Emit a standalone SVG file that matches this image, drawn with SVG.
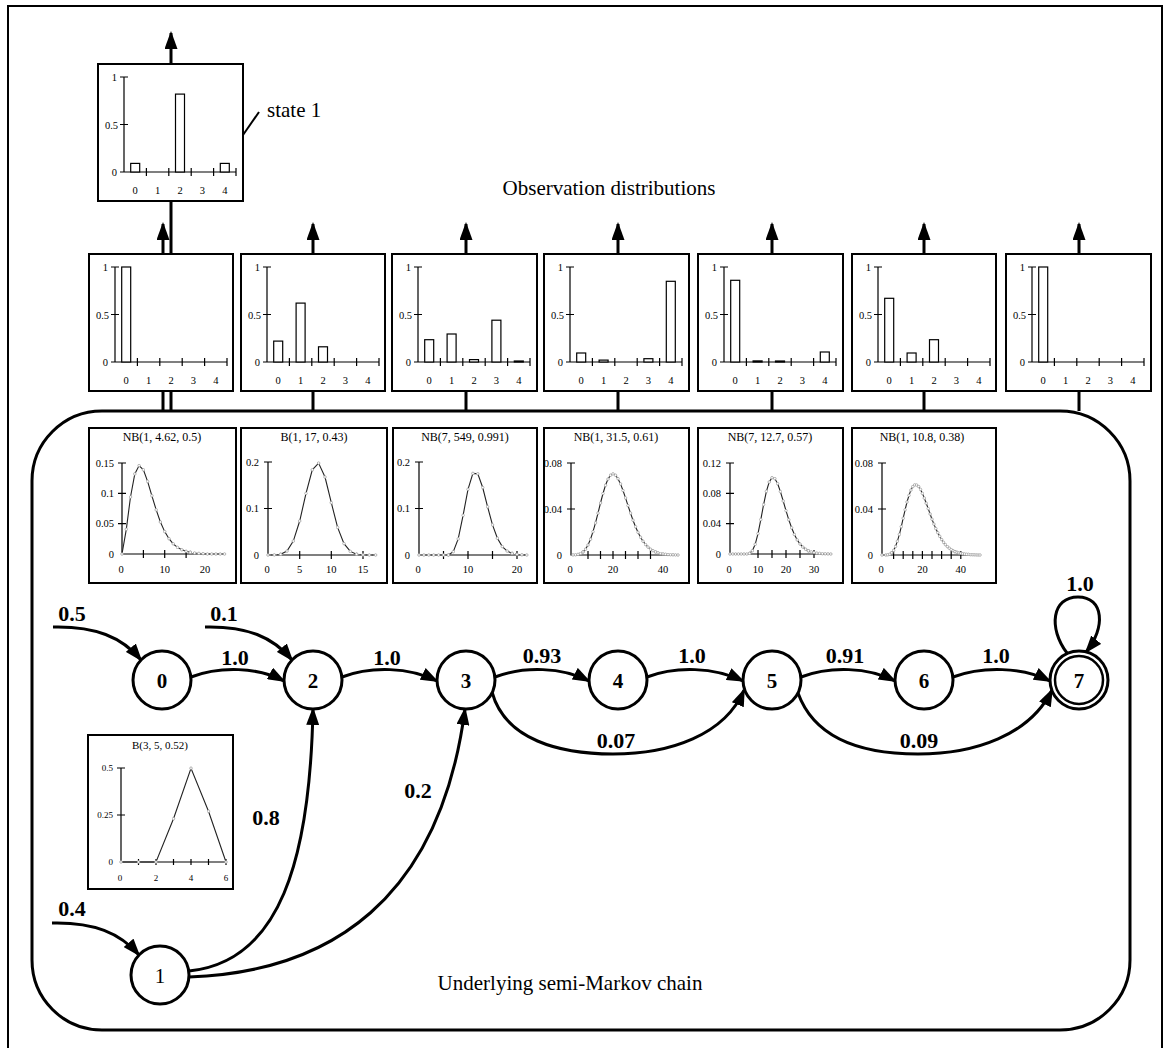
<svg xmlns="http://www.w3.org/2000/svg" width="1165" height="1048" viewBox="0 0 1165 1048">
<style>
.frame{fill:none;stroke:#000;stroke-width:2}
.chain{fill:none;stroke:#000;stroke-width:3}
.box{fill:#fff;stroke:#000;stroke-width:2}
.ax{fill:none;stroke:#000;stroke-width:1.2}
.bar{fill:#fff;stroke:#000;stroke-width:1.2}
.tl{font-family:"Liberation Serif",serif;font-size:10.5px;fill:#000}
.tr{text-anchor:end}
.tm{text-anchor:middle}
.ttl{font-family:"Liberation Serif",serif;font-size:12px;fill:#000;text-anchor:middle}
.curve{fill:none;stroke:#222;stroke-width:1.1;marker-start:url(#dot);marker-mid:url(#dot);marker-end:url(#dot)}
.tail{fill:none;stroke:#444;stroke-width:1;stroke-dasharray:1.5 1.5;marker-start:url(#dot);marker-mid:url(#dot);marker-end:url(#dot)}
.edge{fill:none;stroke:#000;stroke-width:3;marker-end:url(#ah)}
.link{fill:none;stroke:#000;stroke-width:3}
.node{fill:#fff;stroke:#000;stroke-width:3}
.nl{font-family:"Liberation Serif",serif;font-size:21px;font-weight:bold;text-anchor:middle}
.el{font-family:"Liberation Serif",serif;font-size:22px;font-weight:bold;text-anchor:middle}
.big{font-family:"Liberation Serif",serif;font-size:21px}
</style>
<defs>
<marker id="ah" markerUnits="userSpaceOnUse" markerWidth="18" markerHeight="13" refX="16" refY="6.5" orient="auto" viewBox="0 0 18 13"><path d="M0,0 L18,6.5 L0,13 z" fill="#000"/></marker>
<marker id="dot" markerUnits="userSpaceOnUse" markerWidth="4" markerHeight="4" refX="2" refY="2" viewBox="0 0 4 4"><circle cx="2" cy="2" r="1.3" fill="#fff" stroke="#999" stroke-width="0.7"/></marker>
</defs>
<rect x="0" y="0" width="1165" height="1048" fill="#fff"/>
<path class="frame" d="M8,1050 V6 H1162 V1050"/>

<g id="connectors">
<rect class="chain" x="32" y="411" width="1098" height="619" rx="70" ry="70"/>
<path class="link" d="M171,201 V411 M163,391 V411 M313,391 V411 M466,391 V411 M618,391 V411 M772,391 V411 M924,391 V411 M1079,391 V411"/>
<path class="edge" d="M171,64 V33"/>
<path class="edge" d="M163,254 V224"/>
<path class="edge" d="M313,254 V224"/>
<path class="edge" d="M466,254 V224"/>
<path class="edge" d="M618,254 V224"/>
<path class="edge" d="M772,254 V224"/>
<path class="edge" d="M924,254 V224"/>
<path class="edge" d="M1079,254 V224"/>
<path d="M243,135 L259,112" stroke="#000" stroke-width="2" fill="none"/>
<path class="edge" d="M53,627 C95,626 122,637 141,660"/>
<path class="edge" d="M205,627 C247,626 273,637 292,660"/>
<path class="edge" d="M52,923 C94,922 120,933 139,955"/>
<path class="edge" d="M191,677 C220,666 258,667 284,681"/>
<path class="edge" d="M342,677 C371,666 409,667 437,681"/>
<path class="edge" d="M495,677 C524,666 562,667 589,681"/>
<path class="edge" d="M647,677 C676,666 714,667 743,681"/>
<path class="edge" d="M801,677 C830,666 868,667 895,681"/>
<path class="edge" d="M953,677 C983,666 1022,667 1050,681"/>
<path class="edge" d="M492,692 C505,740 560,754 613,754 C670,754 725,735 744,690"/>
<path class="edge" d="M798,693 C815,740 865,754 918,754 C975,754 1030,735 1052,690"/>
<path class="edge" d="M1067,653 C1048,628 1052,597 1078,597 C1104,597 1106,628 1086,652"/>
<path class="edge" d="M189,971 C280,962 310,860 313,709"/>
<path class="edge" d="M189,977 C330,972 440,900 465,709"/>
<text class="el" x="72" y="621">0.5</text>
<text class="el" x="224" y="621">0.1</text>
<text class="el" x="72" y="916">0.4</text>
<text class="el" x="235" y="665">1.0</text>
<text class="el" x="387" y="665">1.0</text>
<text class="el" x="542" y="663">0.93</text>
<text class="el" x="692" y="663">1.0</text>
<text class="el" x="845" y="663">0.91</text>
<text class="el" x="996" y="663">1.0</text>
<text class="el" x="616" y="748">0.07</text>
<text class="el" x="919" y="748">0.09</text>
<text class="el" x="1080" y="591">1.0</text>
<text class="el" x="266" y="825">0.8</text>
<text class="el" x="418" y="798">0.2</text>
</g>

<text class="big" x="267" y="117">state 1</text>
<text class="big tm" x="609" y="195">Observation distributions</text>
<text class="big tm" x="570" y="990">Underlying semi-Markov chain</text>

<!-- observation distribution boxes -->
<g id="obs-state1" transform="translate(98,64)">
<rect class="box" x="0" y="0" width="145" height="137"/>
<path class="ax" d="M26,13 V108 H138 M22,13 H30 M22,60.5 H30 M22,108 H30 M48.4,104 V112 M70.8,104 V112 M93.2,104 V112 M115.6,104 V112 M138,104 V112"/>
<rect class="bar" x="32.7" y="99.4" width="9" height="8.6"/>
<rect class="bar" x="77.5" y="30.1" width="9" height="77.9"/>
<rect class="bar" x="122.3" y="99.4" width="9" height="8.6"/>
<text class="tl tr" x="19" y="17">1</text><text class="tl tr" x="20" y="64.5">0.5</text><text class="tl tr" x="19" y="112">0</text>
<text class="tl tm" x="37.2" y="130">0</text><text class="tl tm" x="59.6" y="130">1</text><text class="tl tm" x="82" y="130">2</text><text class="tl tm" x="104.4" y="130">3</text><text class="tl tm" x="126.8" y="130">4</text>
</g>

<g id="obs-0" transform="translate(89,254)">
<rect class="box" x="0" y="0" width="144" height="137"/>
<path class="ax" d="M26,13 V108 H138 M22,13 H30 M22,60.5 H30 M22,108 H30 M48.4,104 V112 M70.8,104 V112 M93.2,104 V112 M115.6,104 V112 M138,104 V112"/>
<rect class="bar" x="32.7" y="13" width="9" height="95"/>
<text class="tl tr" x="19" y="17">1</text><text class="tl tr" x="20" y="64.5">0.5</text><text class="tl tr" x="19" y="112">0</text>
<text class="tl tm" x="37.2" y="130">0</text><text class="tl tm" x="59.6" y="130">1</text><text class="tl tm" x="82" y="130">2</text><text class="tl tm" x="104.4" y="130">3</text><text class="tl tm" x="126.8" y="130">4</text>
</g>

<g id="obs-2" transform="translate(241,254)">
<rect class="box" x="0" y="0" width="144" height="137"/>
<path class="ax" d="M26,13 V108 H138 M22,13 H30 M22,60.5 H30 M22,108 H30 M48.4,104 V112 M70.8,104 V112 M93.2,104 V112 M115.6,104 V112 M138,104 V112"/>
<rect class="bar" x="32.7" y="87.1" width="9" height="20.9"/>
<rect class="bar" x="55.1" y="49.1" width="9" height="58.9"/>
<rect class="bar" x="77.5" y="92.8" width="9" height="15.2"/>
<text class="tl tr" x="19" y="17">1</text><text class="tl tr" x="20" y="64.5">0.5</text><text class="tl tr" x="19" y="112">0</text>
<text class="tl tm" x="37.2" y="130">0</text><text class="tl tm" x="59.6" y="130">1</text><text class="tl tm" x="82" y="130">2</text><text class="tl tm" x="104.4" y="130">3</text><text class="tl tm" x="126.8" y="130">4</text>
</g>

<g id="obs-3" transform="translate(392,254)">
<rect class="box" x="0" y="0" width="145" height="137"/>
<path class="ax" d="M26,13 V108 H138 M22,13 H30 M22,60.5 H30 M22,108 H30 M48.4,104 V112 M70.8,104 V112 M93.2,104 V112 M115.6,104 V112 M138,104 V112"/>
<rect class="bar" x="32.7" y="85.7" width="9" height="22.3"/>
<rect class="bar" x="55.1" y="80" width="9" height="28"/>
<rect class="bar" x="77.5" y="105.6" width="9" height="2.4"/>
<rect class="bar" x="99.9" y="66.2" width="9" height="41.8"/>
<rect class="bar" x="122.3" y="107" width="9" height="1"/>
<text class="tl tr" x="19" y="17">1</text><text class="tl tr" x="20" y="64.5">0.5</text><text class="tl tr" x="19" y="112">0</text>
<text class="tl tm" x="37.2" y="130">0</text><text class="tl tm" x="59.6" y="130">1</text><text class="tl tm" x="82" y="130">2</text><text class="tl tm" x="104.4" y="130">3</text><text class="tl tm" x="126.8" y="130">4</text>
</g>

<g id="obs-4" transform="translate(544,254)">
<rect class="box" x="0" y="0" width="145" height="137"/>
<path class="ax" d="M26,13 V108 H138 M22,13 H30 M22,60.5 H30 M22,108 H30 M48.4,104 V112 M70.8,104 V112 M93.2,104 V112 M115.6,104 V112 M138,104 V112"/>
<rect class="bar" x="32.7" y="99" width="9" height="9"/>
<rect class="bar" x="55.1" y="106.1" width="9" height="1.9"/>
<rect class="bar" x="99.9" y="104.7" width="9" height="3.3"/>
<rect class="bar" x="122.3" y="27.3" width="9" height="80.7"/>
<text class="tl tr" x="19" y="17">1</text><text class="tl tr" x="20" y="64.5">0.5</text><text class="tl tr" x="19" y="112">0</text>
<text class="tl tm" x="37.2" y="130">0</text><text class="tl tm" x="59.6" y="130">1</text><text class="tl tm" x="82" y="130">2</text><text class="tl tm" x="104.4" y="130">3</text><text class="tl tm" x="126.8" y="130">4</text>
</g>

<g id="obs-5" transform="translate(698,254)">
<rect class="box" x="0" y="0" width="145" height="137"/>
<path class="ax" d="M26,13 V108 H138 M22,13 H30 M22,60.5 H30 M22,108 H30 M48.4,104 V112 M70.8,104 V112 M93.2,104 V112 M115.6,104 V112 M138,104 V112"/>
<rect class="bar" x="32.7" y="26.3" width="9" height="81.7"/>
<rect class="bar" x="55.1" y="106.9" width="9" height="1.1"/>
<rect class="bar" x="77.5" y="107" width="9" height="1"/>
<rect class="bar" x="122.3" y="98" width="9" height="10"/>
<text class="tl tr" x="19" y="17">1</text><text class="tl tr" x="20" y="64.5">0.5</text><text class="tl tr" x="19" y="112">0</text>
<text class="tl tm" x="37.2" y="130">0</text><text class="tl tm" x="59.6" y="130">1</text><text class="tl tm" x="82" y="130">2</text><text class="tl tm" x="104.4" y="130">3</text><text class="tl tm" x="126.8" y="130">4</text>
</g>

<g id="obs-6" transform="translate(852,254)">
<rect class="box" x="0" y="0" width="144" height="137"/>
<path class="ax" d="M26,13 V108 H138 M22,13 H30 M22,60.5 H30 M22,108 H30 M48.4,104 V112 M70.8,104 V112 M93.2,104 V112 M115.6,104 V112 M138,104 V112"/>
<rect class="bar" x="32.7" y="44.3" width="9" height="63.7"/>
<rect class="bar" x="55.1" y="99" width="9" height="9"/>
<rect class="bar" x="77.5" y="85.7" width="9" height="22.3"/>
<text class="tl tr" x="19" y="17">1</text><text class="tl tr" x="20" y="64.5">0.5</text><text class="tl tr" x="19" y="112">0</text>
<text class="tl tm" x="37.2" y="130">0</text><text class="tl tm" x="59.6" y="130">1</text><text class="tl tm" x="82" y="130">2</text><text class="tl tm" x="104.4" y="130">3</text><text class="tl tm" x="126.8" y="130">4</text>
</g>

<g id="obs-7" transform="translate(1006,254)">
<rect class="box" x="0" y="0" width="145" height="137"/>
<path class="ax" d="M26,13 V108 H138 M22,13 H30 M22,60.5 H30 M22,108 H30 M48.4,104 V112 M70.8,104 V112 M93.2,104 V112 M115.6,104 V112 M138,104 V112"/>
<rect class="bar" x="32.7" y="13" width="9" height="95"/>
<text class="tl tr" x="19" y="17">1</text><text class="tl tr" x="20" y="64.5">0.5</text><text class="tl tr" x="19" y="112">0</text>
<text class="tl tm" x="37.2" y="130">0</text><text class="tl tm" x="59.6" y="130">1</text><text class="tl tm" x="82" y="130">2</text><text class="tl tm" x="104.4" y="130">3</text><text class="tl tm" x="126.8" y="130">4</text>
</g>

<!-- sojourn time distribution boxes -->
<g id="dur-0">
<rect class="box" x="89" y="428" width="147" height="155"/>
<text class="ttl" x="162" y="441">NB(1, 4.62, 0.5)</text>
<path class="ax" d="M122,463 V554 H224 M118,463 H126 M118,493.3 H126 M118,523.7 H126 M143.4,550 V558 M164.7,550 V558 M186.1,550 V558"/>
<text class="tl tr" x="114" y="466.5">0.15</text><text class="tl tr" x="114" y="496.8">0.1</text><text class="tl tr" x="114" y="527.2">0.05</text><text class="tl tr" x="114" y="557.5">0</text>
<text class="tl tm" x="121" y="573">0</text><text class="tl tm" x="164.7" y="573">10</text><text class="tl tm" x="205" y="573">20</text>
<polyline class="curve" points="122,554 126.3,529.3 130.5,497 134.8,473.9 139.1,465.6 143.4,469.8 147.6,481.4 151.9,495.8 156.2,509.9 160.4,522 164.7,531.6 169,538.7 173.2,543.8 177.5,547.4 181.8,549.8 186.1,551.3 190.3,552.3"/>
<polyline class="tail" points="190.3,552.3 194.6,553 198.9,553.4 203.1,553.6 207.4,554 211.7,554 215.9,554 220.2,554 224.5,554"/>
</g>

<g id="dur-2">
<rect class="box" x="241" y="428" width="146" height="155"/>
<text class="ttl" x="314" y="441">B(1, 17, 0.43)</text>
<path class="ax" d="M268,462 V555 H376 M264,462 H272 M264,508.5 H272 M299.7,551 V559 M331.3,551 V559 M363,551 V559"/>
<text class="tl tr" x="259" y="465.5">0.2</text><text class="tl tr" x="259" y="512">0.1</text><text class="tl tr" x="259" y="558.5">0</text>
<text class="tl tm" x="267" y="573">0</text><text class="tl tm" x="299.7" y="573">5</text><text class="tl tm" x="331.3" y="573">10</text><text class="tl tm" x="363" y="573">15</text>
<polyline class="tail" points="268,555 274.3,554.9 280.7,554.3"/>
<polyline class="curve" points="280.7,554.3 287,551.1 293.3,541.1 299.7,521 306,493.4 312.3,469.8 318.6,463.1 325,477 331.3,502.7 337.6,527.4 344,543.6 350.3,551.4 356.6,554.2"/>
<polyline class="tail" points="356.6,554.2 363,554.9 369.3,555 375.6,555"/>
</g>

<g id="dur-3">
<rect class="box" x="393" y="428" width="144" height="155"/>
<text class="ttl" x="465" y="441">NB(7, 549, 0.991)</text>
<path class="ax" d="M419,462 V555 H527 M415,462 H423 M415,508.5 H423 M443.5,551 V559 M468,551 V559 M492.5,551 V559 M517,551 V559"/>
<text class="tl tr" x="410" y="465.5">0.2</text><text class="tl tr" x="410" y="512">0.1</text><text class="tl tr" x="410" y="558.5">0</text>
<text class="tl tm" x="418" y="573">0</text><text class="tl tm" x="468" y="573">10</text><text class="tl tm" x="517" y="573">20</text>
<polyline class="tail" points="419,555 423.9,555 428.8,555 433.7,555 438.6,555 443.5,555 448.4,555"/>
<polyline class="curve" points="448.4,555 453.3,551.7 458.2,538.9 463.1,515.3 468,489.3 472.9,473.4 477.8,473.8 482.7,487.5 487.6,506.8 492.5,524.9 497.4,538.2 502.3,546.6 507.2,551.1 512.1,553.4"/>
<polyline class="tail" points="512.1,553.4 517,554.4 521.9,554.8 526.8,555"/>
</g>

<g id="dur-4">
<rect class="box" x="544" y="428" width="145" height="155"/>
<text class="ttl" x="616" y="441">NB(1, 31.5, 0.61)</text>
<path class="ax" d="M571,463 V555 H678 M567,463 H575 M567,509 H575 M588,551 V559 M600.5,551 V559 M613,551 V559 M625.5,551 V559 M638,551 V559 M650.5,551 V559"/>
<text class="tl tr" x="562" y="466.5">0.08</text><text class="tl tr" x="562" y="512.5">0.04</text><text class="tl tr" x="562" y="558.5">0</text>
<text class="tl tm" x="570" y="573">0</text><text class="tl tm" x="613" y="573">20</text><text class="tl tm" x="663" y="573">40</text>
<polyline class="tail" points="573,554.9 575.5,554.8 578,554.4 580.5,553.5 583,551.9"/>
<polyline class="curve" points="583,551.9 585.5,549.2 588,545 590.5,539.2 593,531.7 595.5,522.9 598,513.1 600.5,503 603,493.5 605.5,485.3 608,479.1 610.5,475.2 613,473.9 615.5,475.2 618,478.7 620.5,483.9 623,490.5 625.5,497.9 628,505.6 630.5,513.1 633,520.2 635.5,526.7 638,532.3 640.5,537.2 643,541.2 645.5,544.5 648,547.1 650.5,549.2 653,550.7 655.5,551.9"/>
<polyline class="tail" points="655.5,551.9 658,552.8 660.5,553.5 663,553.9 665.5,554.3 668,554.5 670.5,554.7 673,554.8 675.5,554.9 678,555"/>
</g>

<g id="dur-5">
<rect class="box" x="698" y="428" width="145" height="155"/>
<text class="ttl" x="770" y="441">NB(7, 12.7, 0.57)</text>
<path class="ax" d="M730,463 V554 H832 M726,463 H734 M726,493.3 H734 M726,523.7 H734 M758,550 V558 M772,550 V558 M786,550 V558 M800,550 V558 M814,550 V558"/>
<text class="tl tr" x="721" y="466.5">0.12</text><text class="tl tr" x="721" y="496.8">0.08</text><text class="tl tr" x="721" y="527.2">0.04</text><text class="tl tr" x="721" y="557.5">0</text>
<text class="tl tm" x="729" y="573">0</text><text class="tl tm" x="758" y="573">10</text><text class="tl tm" x="786" y="573">20</text><text class="tl tm" x="814" y="573">30</text>
<polyline class="tail" points="730,554 732.8,554 735.6,554 738.4,554 741.2,554 744,554 746.8,554 749.6,553.4"/>
<polyline class="curve" points="749.6,553.4 752.4,550.7 755.2,544.3 758,533.6 760.8,519.6 763.6,504.6 766.4,491.3 769.2,482 772,477.7 774.8,478.6 777.6,483.6 780.4,491.6 783.2,501 786,510.7 788.8,519.8 791.6,527.8 794.4,534.5 797.2,539.9 800,544 802.8,547 805.6,549.2 808.4,550.8"/>
<polyline class="tail" points="808.4,550.8 811.2,551.9 814,552.6 816.8,553.1 819.6,553.4 822.4,553.7 825.2,553.8 828,553.9 830.8,554"/>
</g>

<g id="dur-6">
<rect class="box" x="852" y="428" width="144" height="155"/>
<text class="ttl" x="922" y="441">NB(1, 10.8, 0.38)</text>
<path class="ax" d="M882,463 V555 H980 M878,463 H886 M878,509 H886 M893.6,551 V559 M903.2,551 V559 M912.8,551 V559 M922.4,551 V559 M932,551 V559 M941.6,551 V559 M951.2,551 V559 M960.8,551 V559"/>
<text class="tl tr" x="873" y="466.5">0.08</text><text class="tl tr" x="873" y="512.5">0.04</text><text class="tl tr" x="873" y="558.5">0</text>
<text class="tl tm" x="881" y="573">0</text><text class="tl tm" x="922.4" y="573">20</text><text class="tl tm" x="960.8" y="573">40</text>
<polyline class="tail" points="882,555 885.9,555 887.8,554.8 889.8,554.2 891.7,552.8"/>
<polyline class="curve" points="891.7,552.8 893.6,550.4 895.5,546.5 897.4,541.2 899.4,534.4 901.3,526.6 903.2,518.2 905.1,509.8 907,502 909,495.4 910.9,490.1 912.8,486.6 914.7,484.9 916.6,485 918.6,486.5 920.5,489.4 922.4,493.4 924.3,498.1 926.2,503.2 928.2,508.6 930.1,514 932,519.2 933.9,524.1 935.8,528.6 937.8,532.7 939.7,536.3 941.6,539.5 943.5,542.3 945.4,544.6 947.4,546.6 949.3,548.2 951.2,549.6 953.1,550.7 955,551.6"/>
<polyline class="tail" points="955,551.6 957,552.3 958.9,552.9 960.8,553.4 962.7,553.8 964.6,554 966.6,554.3 968.5,554.4 970.4,554.6 972.3,554.7 974.2,554.8 976.2,554.9 978.1,555 980,555"/>
</g>

<g id="dur-1">
<rect class="box" x="88" y="735" width="145" height="154"/>
<text class="ttl" x="160" y="749" style="font-size:11px">B(3, 5, 0.52)</text>
<path class="ax" d="M121,768 V862 H226 M117,768 H125 M117,815 H125 M138.5,859 V865 M156,859 V865 M173.5,859 V865 M191,859 V865 M208.5,859 V865 M226,859 V865"/>
<text class="tl tr" x="113" y="771" style="font-size:9px">0.5</text><text class="tl tr" x="113" y="818" style="font-size:9px">0.25</text><text class="tl tr" x="113" y="865" style="font-size:9px">0</text>
<text class="tl tm" x="120" y="881" style="font-size:9px">0</text><text class="tl tm" x="156" y="881" style="font-size:9px">2</text><text class="tl tm" x="191" y="881" style="font-size:9px">4</text><text class="tl tm" x="226" y="881" style="font-size:9px">6</text>
<polyline class="curve" points="121,862 138.5,862 156,862 173.5,818.7 191,768.2 208.5,811.2 226,862"/>
</g>

<!-- states -->
<g id="state-0"><circle class="node" cx="162" cy="680" r="29"/><text class="nl" x="162" y="687.5">0</text></g>
<g id="state-1"><circle class="node" cx="160" cy="975" r="29"/><text class="nl" x="160" y="982.5" style="font-weight:normal">1</text></g>
<g id="state-2"><circle class="node" cx="313" cy="680" r="29"/><text class="nl" x="313" y="687.5">2</text></g>
<g id="state-3"><circle class="node" cx="466" cy="680" r="29"/><text class="nl" x="466" y="687.5">3</text></g>
<g id="state-4"><circle class="node" cx="618" cy="680" r="29"/><text class="nl" x="618" y="687.5">4</text></g>
<g id="state-5"><circle class="node" cx="772" cy="680" r="29"/><text class="nl" x="772" y="687.5">5</text></g>
<g id="state-6"><circle class="node" cx="924" cy="680" r="29"/><text class="nl" x="924" y="687.5">6</text></g>
<g id="state-7"><circle class="node" cx="1079" cy="680" r="29"/><circle cx="1079" cy="680" r="24" fill="none" stroke="#000" stroke-width="2.5"/><text class="nl" x="1079" y="687.5">7</text></g>
</svg>
